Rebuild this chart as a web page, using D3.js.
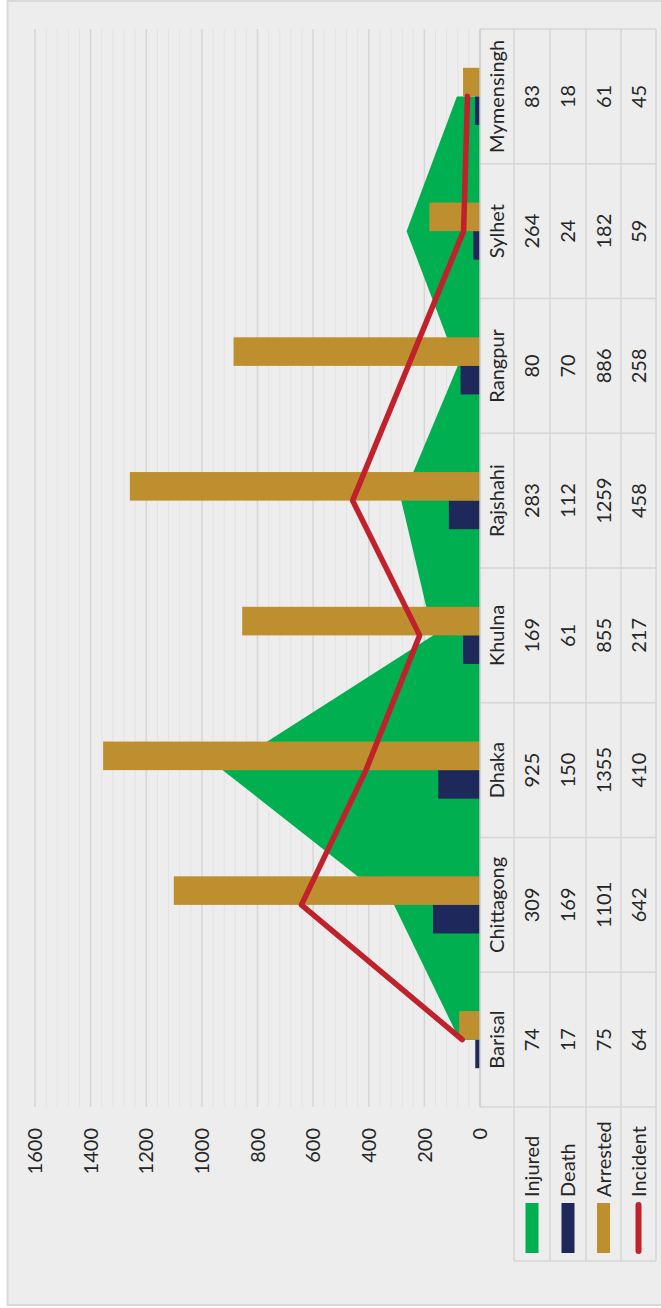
<!DOCTYPE html>
<html>
<head>
<meta charset="utf-8">
<script src="https://cdn.jsdelivr.net/npm/d3@7/dist/d3.min.js"></script>
<style>
  html, body { margin: 0; padding: 0; background: #ffffff; }
  svg { display: block; }
  text { font-family: "Gill Sans", "Gill Sans MT", Lato, "Open Sans", sans-serif; fill: #262626; }
</style>
</head>
<body>
<svg id="chart" width="661" height="1308"></svg>
<script>
const categories = ["Barisal", "Chittagong", "Dhaka", "Khulna", "Rajshahi", "Rangpur", "Sylhet", "Mymensingh"];
const injured  = [74, 309, 925, 169, 283, 80, 264, 83];
const death    = [17, 169, 150, 61, 112, 70, 24, 18];
const arrested = [75, 1101, 1355, 855, 1259, 886, 182, 61];
const incident = [64, 642, 410, 217, 458, 258, 59, 45];
const seriesNames = ["Injured", "Death", "Arrested", "Incident"];
const yTicks = [0, 200, 400, 600, 800, 1000, 1200, 1400, 1600];

const colors = { Injured: "#00b050", Death: "#1f285b", Arrested: "#bd8f2f", Incident: "#c0212a" };

const W = 1308, H = 661;  // unrotated chart size
const svg = d3.select("#chart");
// Rotate the whole chart 90 degrees counter-clockwise
const g = svg.append("g").attr("transform", `translate(0,${W}) rotate(-90)`);

// background & outer border
g.append("rect").attr("x", 3).attr("y", 7.5).attr("width", W - 4).attr("height", H + 10)
  .attr("fill", "#ededed").attr("stroke", "#d9d9d9").attr("stroke-width", 2);

const plotL = 201, plotR = 1279, plotTop = 35, zeroY = 480;
const x = d3.scaleBand().domain(categories).range([plotL, plotR]).paddingInner(0).paddingOuter(0);
const y = d3.scaleLinear().domain([0, 1600]).range([zeroY, plotTop]);

// minor grid
const minor = d3.range(0, 1601, 40).filter(v => v % 200 !== 0);
g.append("g").selectAll("line").data(minor).join("line")
  .attr("x1", plotL).attr("x2", plotR)
  .attr("y1", d => y(d)).attr("y2", d => y(d))
  .attr("stroke", "#e3e3e3").attr("stroke-width", 1);
// major grid
g.append("g").selectAll("line").data(yTicks.filter(v => v > 0)).join("line")
  .attr("x1", plotL).attr("x2", plotR)
  .attr("y1", d => y(d)).attr("y2", d => y(d))
  .attr("stroke", "#d6d6d6").attr("stroke-width", 1.5);

// y axis labels
g.append("g").selectAll("text").data(yTicks).join("text")
  .attr("x", 180).attr("y", d => y(d)).attr("dy", "0.36em")
  .attr("text-anchor", "end").attr("font-size", 20).text(d => d);

const cx = c => x(c) + x.bandwidth() / 2;

// area (Injured)
const area = d3.area()
  .x((d, i) => cx(categories[i]))
  .y0(y(0)).y1(d => y(d));
g.append("path").datum(injured).attr("d", area).attr("fill", colors.Injured);

// bars (Death, Arrested)
const barW = x.bandwidth() * 0.212;
const bars = [["Death", death], ["Arrested", arrested]];
bars.forEach(([name, vals], k) => {
  g.append("g").selectAll("rect").data(vals).join("rect")
    .attr("x", (d, i) => cx(categories[i]) - barW + k * barW)
    .attr("width", barW)
    .attr("y", d => y(d))
    .attr("height", d => y(0) - y(d))
    .attr("fill", colors[name]);
});

// line (Incident)
const line = d3.line().x((d, i) => cx(categories[i])).y(d => y(d));
g.append("path").datum(incident).attr("d", line)
  .attr("fill", "none").attr("stroke", colors.Incident)
  .attr("stroke-width", 5.5).attr("stroke-linecap", "round").attr("stroke-linejoin", "round");

// data table
const rowEdges = [480, 514, 550, 586, 621, 656];
const tbl = g.append("g");
const gridCol = "#d6d6d6";
// horizontal rows
rowEdges.forEach((ry, i) => {
  if (i === 0) return;
  tbl.append("line").attr("x1", plotL).attr("x2", plotR).attr("y1", ry).attr("y2", ry)
    .attr("stroke", gridCol).attr("stroke-width", 1.5);
});
// vertical column separators
const colEdges = categories.map(c => x(c)).concat([plotR]);
tbl.selectAll("line.col").data(colEdges).join("line").attr("class", "col")
  .attr("x1", d => d).attr("x2", d => d).attr("y1", zeroY).attr("y2", rowEdges[5])
  .attr("stroke", gridCol).attr("stroke-width", 1.5);
// axis line
tbl.append("line").attr("x1", plotL).attr("x2", plotR).attr("y1", zeroY).attr("y2", zeroY)
  .attr("stroke", "#c8c8c8").attr("stroke-width", 1.5);

// category names
tbl.selectAll("text.cat").data(categories).join("text").attr("class", "cat")
  .attr("x", d => cx(d)).attr("y", (rowEdges[0] + rowEdges[1]) / 2).attr("dy", "0.36em")
  .attr("text-anchor", "middle").attr("font-size", 20).text(d => d);

const tableSeries = [injured, death, arrested, incident];
tableSeries.forEach((vals, r) => {
  tbl.append("g").selectAll("text").data(vals).join("text")
    .attr("x", (d, i) => cx(categories[i]))
    .attr("y", (rowEdges[r + 1] + rowEdges[r + 2]) / 2).attr("dy", "0.36em")
    .attr("text-anchor", "middle").attr("font-size", 20).text(d => d);
});

// legend column
const legL = 47;
rowEdges.slice(1).forEach(ry => {
  tbl.append("line").attr("x1", legL).attr("x2", plotL).attr("y1", ry).attr("y2", ry)
    .attr("stroke", gridCol).attr("stroke-width", 1.5);
});
tbl.append("line").attr("x1", legL).attr("x2", legL).attr("y1", rowEdges[1]).attr("y2", rowEdges[5])
  .attr("stroke", gridCol).attr("stroke-width", 1.5);

seriesNames.forEach((name, r) => {
  const cy = (rowEdges[r + 1] + rowEdges[r + 2]) / 2;
  if (name === "Incident") {
    tbl.append("line").attr("x1", 57).attr("x2", 103).attr("y1", cy).attr("y2", cy)
      .attr("stroke", colors[name]).attr("stroke-width", 6).attr("stroke-linecap", "round");
  } else {
    tbl.append("rect").attr("x", 55).attr("y", cy - 6.5).attr("width", 50).attr("height", 13)
      .attr("fill", colors[name]);
  }
  tbl.append("text").attr("x", 111).attr("y", cy).attr("dy", "0.36em")
    .attr("font-size", 20).text(name);
});
</script>
</body>
</html>
